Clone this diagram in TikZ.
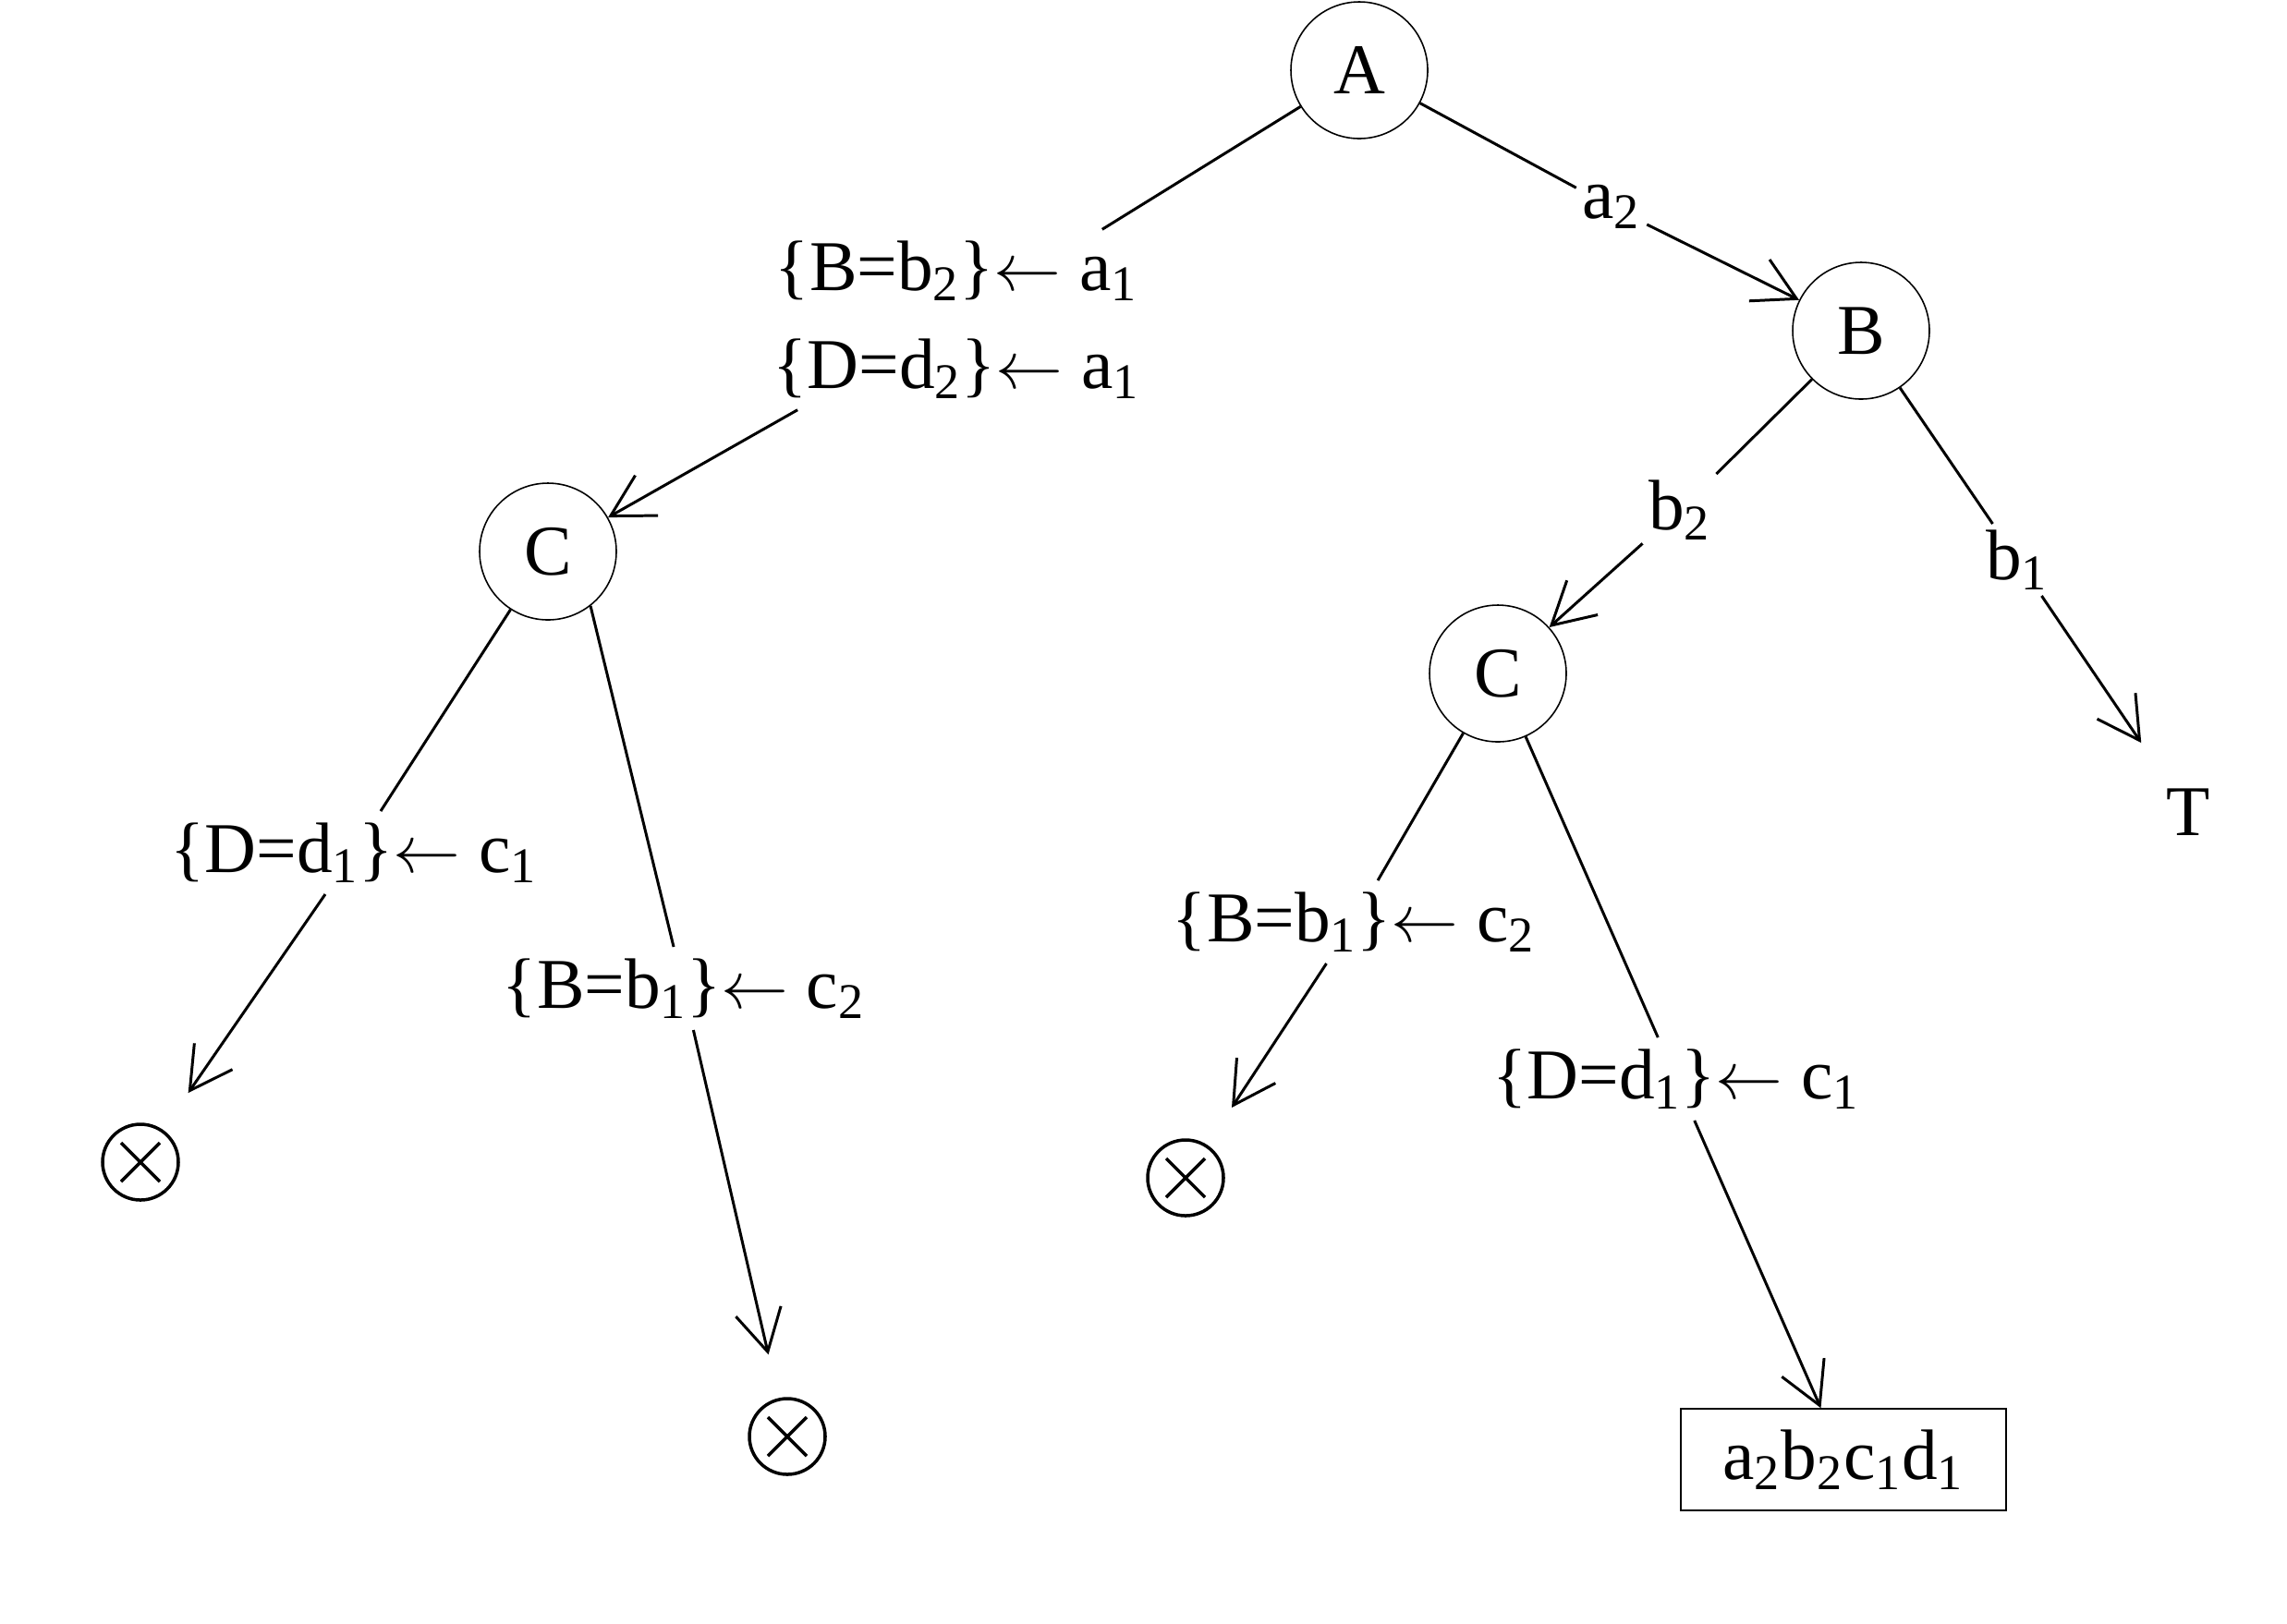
\documentclass[tikz,border=0pt]{standalone}
\usepackage{fontspec}
\setmainfont{Liberation Serif}
\usetikzlibrary{arrows.meta}

\begin{document}
\begin{tikzpicture}[
  every node/.style={font=\fontsize{22}{30}\selectfont},
  attr/.style={
    draw,
    circle,
    line width=0.45pt,
    minimum size=1.48cm,
    inner sep=0pt
  },
  cond/.style={inner sep=0.12cm,align=center},
  val/.style={inner sep=0.06cm},
  fail/.style={
    draw,
    circle,
    line width=1pt,
    minimum size=0.82cm,
    inner sep=0pt,
    outer sep=0.5cm,
    path picture={
      \draw[line width=1pt]
        ([shift={(-0.21,0.21)}]path picture bounding box.center) --
        ([shift={(0.21,-0.21)}]path picture bounding box.center)
        ([shift={(-0.21,-0.21)}]path picture bounding box.center) --
        ([shift={(0.21,0.21)}]path picture bounding box.center);
    }
  },
  leaf/.style={
    draw,
    line width=0.45pt,
    minimum width=3.52cm,
    minimum height=1.1cm
  },
  edge/.style={line width=0.85pt},
  move/.style={edge,-{Straight Barb[length=0.45cm,width=0.5cm]}}
]
  \useasboundingbox (0,0) rectangle (24.75,-17.57);

  \node[attr] (A) at (14.71,-0.76) {A};
  \node[attr] (B) at (20.14,-3.58) {B};
  \node[attr] (cL) at (5.93,-5.97) {C};
  \node[attr] (cR) at (16.21,-7.29) {C};
  \node (T) at (23.68,-8.79) {T};

  \node[cond] (cA) at (10.35,-3.46)
    {\{B=b\textsubscript{2}\}$\leftarrow$ a\textsubscript{1}\\
     \{D=d\textsubscript{2}\}$\leftarrow$ a\textsubscript{1}};
  \node[val] (a2) at (17.44,-2.24) {a\textsubscript{2}};
  \node[val] (b2) at (18.18,-5.52) {b\textsubscript{2}};
  \node[val] (b1) at (21.83,-6.06) {b\textsubscript{1}};

  \node[cond] (cL1) at (3.83,-9.23) {\{D=d\textsubscript{1}\}$\leftarrow$ c\textsubscript{1}};
  \node[cond] (cL2) at (7.40,-10.70) {\{B=b\textsubscript{1}\}$\leftarrow$ c\textsubscript{2}};
  \node[cond] (cR1) at (14.65,-9.98) {\{B=b\textsubscript{1}\}$\leftarrow$ c\textsubscript{2}};
  \node[cond] (cR2) at (18.14,-11.68) {\{D=d\textsubscript{1}\}$\leftarrow$ c\textsubscript{1}};

  \node[fail] (xL1) at (1.52,-12.58) {};
  \node[fail] (xL2) at (8.52,-15.55) {};
  \node[fail] (xR) at (12.83,-12.75) {};
  \node[leaf] (sol) at (19.95,-15.80)
    {a\textsubscript{2}b\textsubscript{2}c\textsubscript{1}d\textsubscript{1}};

  \draw[edge] (A) -- (cA);
  \draw[move] (cA) -- (cL);
  \draw[edge] (A) -- (a2);
  \draw[move] (a2) -- (B);
  \draw[edge] (B) -- (b2);
  \draw[move] (b2) -- (cR);
  \draw[edge] (B) -- (b1);
  \draw[move,shorten >=0.45cm] (b1) -- (T);

  \draw[edge] (cL) -- (cL1);
  \draw[move] (cL1) -- (xL1);
  \draw[edge] (cL.-52) -- (cL2);
  \draw[move] (cL2) -- (xL2);
  \draw[edge] (cR) -- (cR1);
  \draw[move] (cR1) -- (xR);
  \draw[edge] (cR) -- (cR2);
  \draw[move] (cR2) -- (sol);
\end{tikzpicture}
\end{document}
